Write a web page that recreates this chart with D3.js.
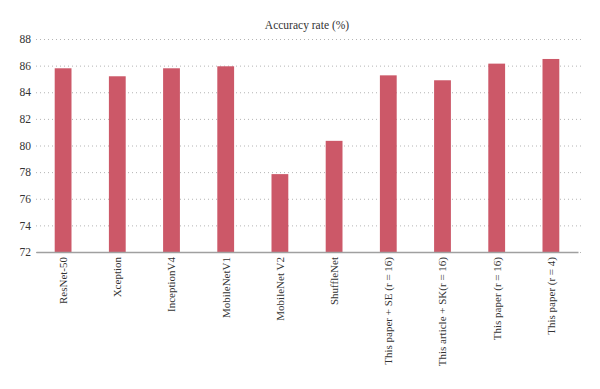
<!DOCTYPE html>
<html>
<head>
<meta charset="utf-8">
<script src="https://cdn.jsdelivr.net/npm/d3@7"></script>
<style>
  body { margin: 0; background: #fff; }
  svg text { font-family: "Liberation Serif", "DejaVu Serif", serif; fill: #333; }
</style>
</head>
<body>
<svg width="600" height="389"></svg>
<script>
const width = 600;
const height = 389;

const svg = d3.select('svg');

const categories = ['ResNet-50', 'Xception', 'InceptionV4', 'MobileNetV1', 'MobileNet V2',
  'ShuffleNet', 'This paper + SE (r = 16)', 'This article + SK(r = 16)',
  'This paper (r = 16)', 'This paper (r = 4)'];
const accuracy = [85.8, 85.2, 85.8, 85.95, 77.85, 80.35, 85.27, 84.9, 86.15, 86.5];
const yTicks = [72, 74, 76, 78, 80, 82, 84, 86, 88];

const margin = { top: 39, bottom: 137, left: 36, right: 22 };
const innerWidth = width - margin.left - margin.right;
const innerHeight = height - margin.top - margin.bottom;

const g = svg.append('g')
    .attr('transform', 'translate(' + margin.left + ', ' + margin.top + ')');

const xScale = d3.scaleBand()
    .domain(categories)
    .range([0, innerWidth])
    .paddingInner(0.69)
    .paddingOuter(0.345);

const yScale = d3.scaleLinear()
    .domain([72, 88])
    .range([innerHeight, 0]);

// dotted gridlines + tick labels
const yAxis = d3.axisLeft(yScale)
    .tickValues(yTicks)
    .tickFormat(d3.format('d'))
    .tickSize(-(innerWidth + 4))
    .tickPadding(5);

const yAxisG = g.append('g').call(yAxis);
yAxisG.select('.domain').remove();
yAxisG.selectAll('.tick line')
    .attr('stroke', '#b4b4b4')
    .attr('stroke-width', 1)
    .attr('stroke-dasharray', '1,3');
yAxisG.selectAll('.tick text')
    .attr('font-size', 11.5)
    .attr('fill', '#444');

g.selectAll('rect.bar')
    .data(accuracy)
    .enter()
    .append('rect')
    .attr('class', 'bar')
    .attr('x', (d, i) => xScale(categories[i]))
    .attr('width', xScale.bandwidth())
    .attr('y', d => yScale(d))
    .attr('height', d => innerHeight - yScale(d))
    .attr('fill', '#cc5868');

const xAxis = d3.axisBottom(xScale)
    .tickSize(0)
    .tickPadding(0);

const xAxisG = g.append('g')
    .attr('transform', 'translate(0, ' + innerHeight + ')')
    .call(xAxis);
xAxisG.select('.domain')
    .attr('stroke', '#a0a0a0')
    .attr('stroke-width', 1.6);
xAxisG.selectAll('.tick text')
    .attr('font-size', 11)
    .attr('fill', '#333')
    .attr('text-anchor', 'end')
    .attr('dy', '0.35em')
    .attr('x', 0)
    .attr('y', 0)
    .attr('transform', 'translate(0, 5) rotate(-90)');

svg.append('text')
    .text('Accuracy rate (%)')
    .attr('x', 307)
    .attr('y', 29)
    .attr('text-anchor', 'middle')
    .attr('font-size', 11.5)
    .attr('fill', '#222');
</script>
</body>
</html>
